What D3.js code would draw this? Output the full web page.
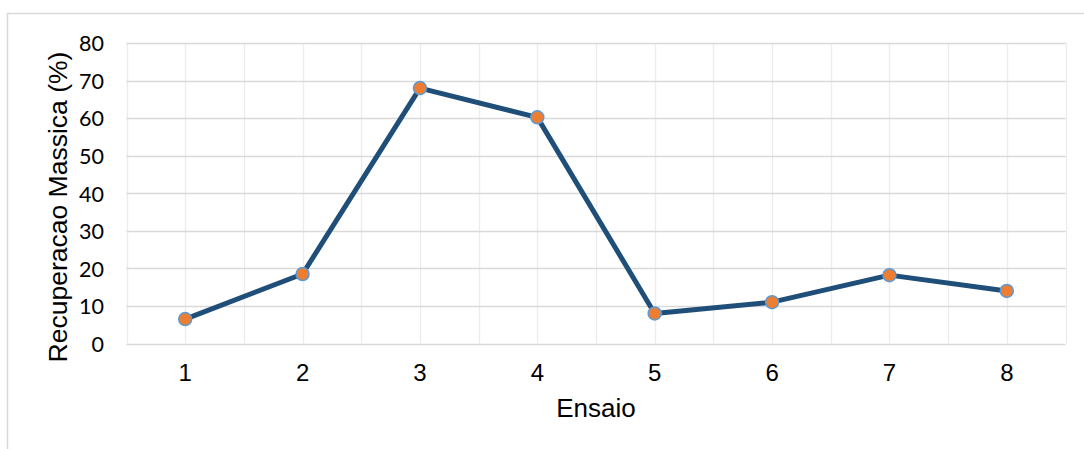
<!DOCTYPE html>
<html>
<head>
<meta charset="utf-8">
<script src="https://cdn.jsdelivr.net/npm/d3@7"></script>
<style>
  html, body { margin: 0; padding: 0; background: #fff; }
  svg { display: block; }
</style>
</head>
<body>
<svg id="chart" width="1084" height="449"></svg>
<script>
// Ensaio number and mass recovery (%) per run
const ensaios = ["1", "2", "3", "4", "5", "6", "7", "8"];
const recuperacao = [6.5, 18.5, 68.0, 60.2, 8.0, 11.0, 18.2, 14.0];
const yTicks = [0, 10, 20, 30, 40, 50, 60, 70, 80];

const svg = d3.select("#chart");
const W = 1084, H = 449;
const plot = { left: 126.5, right: 1065.5, top: 43, bottom: 343.5 };

// chart frame
svg.append("rect")
  .attr("x", 7.5).attr("y", 13.5)
  .attr("width", W + 10).attr("height", H + 10)
  .attr("fill", "none").attr("stroke", "#d9d9d9").attr("stroke-width", 1.5);

const x = d3.scaleBand().domain(ensaios).range([plot.left, plot.right]).padding(0);
const y = d3.scaleLinear().domain([0, 80]).range([plot.bottom, plot.top]);

const g = svg.append("g");

// vertical gridlines: category centers and boundaries
const vLines = [];
ensaios.forEach((e, i) => {
  vLines.push(x(e));
  vLines.push(x(e) + x.bandwidth() / 2);
});
vLines.push(plot.right);
g.selectAll("line.vgrid").data(vLines).join("line")
  .attr("class", "vgrid")
  .attr("x1", d => Math.round(d) + 0.5).attr("x2", d => Math.round(d) + 0.5)
  .attr("y1", plot.top).attr("y2", plot.bottom)
  .attr("stroke", "#ececec").attr("stroke-width", 1.3);

// horizontal gridlines
g.selectAll("line.hgrid").data(yTicks).join("line")
  .attr("class", "hgrid")
  .attr("x1", plot.left).attr("x2", plot.right)
  .attr("y1", d => Math.round(y(d)) + 0.5).attr("y2", d => Math.round(y(d)) + 0.5)
  .attr("stroke", "#d9d9d9").attr("stroke-width", 1.3);

// y axis labels
const yAxis = d3.axisLeft(y).tickValues(yTicks).tickSize(0).tickPadding(0);
const yg = svg.append("g").attr("transform", `translate(${plot.left - 22.5},0)`).call(yAxis);
yg.select(".domain").remove();
yg.selectAll("text")
  .attr("font-family", "Lato, 'Open Sans', sans-serif")
  .attr("font-size", 21.5).attr("fill", "#000").attr("dy", "0.36em");

// x axis labels
const xAxis = d3.axisBottom(x).tickSize(0).tickPadding(0);
const xg = svg.append("g").attr("transform", `translate(0,${plot.bottom})`).call(xAxis);
xg.select(".domain").remove();
xg.selectAll("text")
  .attr("font-family", "'Liberation Sans', Arial, sans-serif")
  .attr("font-size", 24).attr("fill", "#000").attr("dy", 0).attr("y", 37);

// axis titles
svg.append("text")
  .attr("x", (plot.left + plot.right) / 2).attr("y", 417)
  .attr("text-anchor", "middle")
  .attr("font-family", "'Liberation Sans', Arial, sans-serif")
  .attr("font-size", 26).attr("fill", "#000")
  .text("Ensaio");

svg.append("text")
  .attr("transform", `translate(67,207) rotate(-90)`)
  .attr("text-anchor", "middle")
  .attr("font-family", "'Liberation Sans', Arial, sans-serif")
  .attr("font-size", 26.5).attr("fill", "#000")
  .text("Recuperacao Massica (%)");

// series line
const cx = (d, i) => x(ensaios[i]) + x.bandwidth() / 2;
const line = d3.line().x(cx).y(d => y(d));
svg.append("path")
  .datum(recuperacao)
  .attr("d", line)
  .attr("fill", "none")
  .attr("stroke", "#1f4e79")
  .attr("stroke-width", 5)
  .attr("stroke-linejoin", "round");

// markers
svg.selectAll("circle.pt").data(recuperacao).join("circle")
  .attr("class", "pt")
  .attr("cx", cx).attr("cy", d => y(d))
  .attr("r", 6.5)
  .attr("fill", "#ed7d31")
  .attr("stroke", "#5b9bd5").attr("stroke-width", 1.5);
</script>
</body>
</html>
